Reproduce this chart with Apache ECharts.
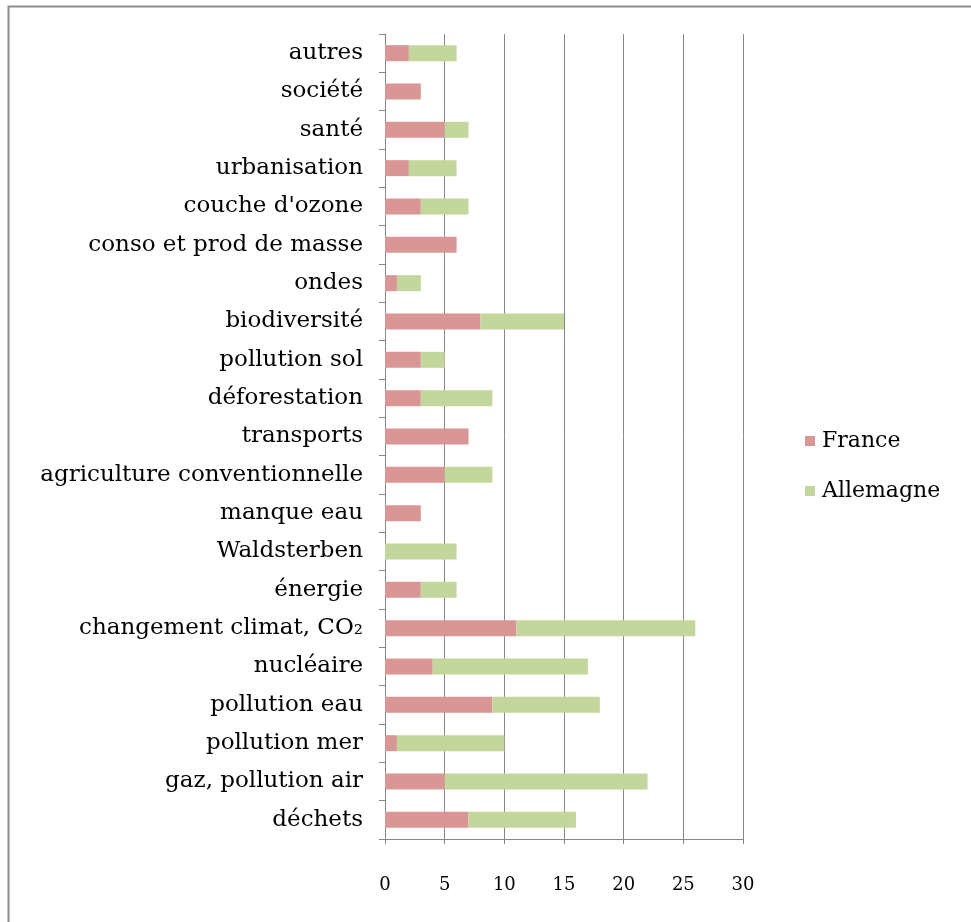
<!DOCTYPE html>
<html>
<head>
<meta charset="utf-8">
<script src="https://cdn.jsdelivr.net/npm/echarts@6/dist/echarts.min.js"></script>
<style>html,body{margin:0;padding:0;background:#fff;}#c{width:971px;height:922px;}</style>
</head>
<body>
<div id="c"></div>
<script>
const categories = ['déchets','gaz, pollution air','pollution mer','pollution eau','nucléaire','changement climat, CO₂','énergie','Waldsterben','manque eau','agriculture conventionnelle','transports','déforestation','pollution sol','biodiversité','ondes','conso et prod de masse',"couche d'ozone",'urbanisation','santé','société','autres'];
const france =    [7, 5, 1, 9, 4, 11, 3, 0, 3, 5, 7, 3, 3, 8, 1, 6, 3, 2, 5, 3, 2];
const allemagne = [9, 17, 9, 9, 13, 15, 3, 6, 0, 4, 0, 6, 2, 7, 2, 0, 4, 4, 2, 0, 4];
const xTicks = [0, 5, 10, 15, 20, 25, 30];

const FONT = '"DejaVu Serif", serif';
const chart = echarts.init(document.getElementById('c'));
chart.setOption({
  animation: false,
  backgroundColor: '#fff',
  graphic: [{type:'rect', shape:{x:8.5,y:6.5,width:1200,height:1200}, style:{fill:'none', stroke:'#8c8c8c', lineWidth:2}}],
  grid: {left: 385, right: 228, top: 34, bottom: 83},
  legend: {
    orient: 'vertical', left: 800, top: 425, itemGap: 28, itemWidth: 10, itemHeight: 10, icon: 'rect',
    textStyle: {fontFamily: FONT, fontSize: 22, color: '#000', padding:[0,0,0,2]},
    data: ['France','Allemagne']
  },
  xAxis: {
    type: 'value', min: 0, max: 30, interval: 5,
    axisLine: {show: true, lineStyle: {color: '#868686'}},
    axisTick: {show: true, length: 5, lineStyle: {color: '#868686'}},
    splitLine: {show: true, lineStyle: {color: '#868686', width: 1}},
    axisLabel: {fontFamily: FONT, fontSize: 18, color: '#000', margin: 37, formatter: v => xTicks.includes(v) ? String(v) : ''}
  },
  yAxis: {
    type: 'category', data: categories,
    axisLine: {show: true, lineStyle: {color: '#868686'}},
    axisTick: {show: true, length: 6, lineStyle: {color: '#868686'}},
    axisLabel: {fontFamily: FONT, fontSize: 23, color: '#000', margin: 22}
  },
  series: [
    {name: 'France', type: 'bar', stack: 't', data: france, barWidth: 16, itemStyle: {color: '#D99694'}},
    {name: 'Allemagne', type: 'bar', stack: 't', data: allemagne, barWidth: 16, itemStyle: {color: '#C3D69B'}}
  ]
});
</script>
</body>
</html>
